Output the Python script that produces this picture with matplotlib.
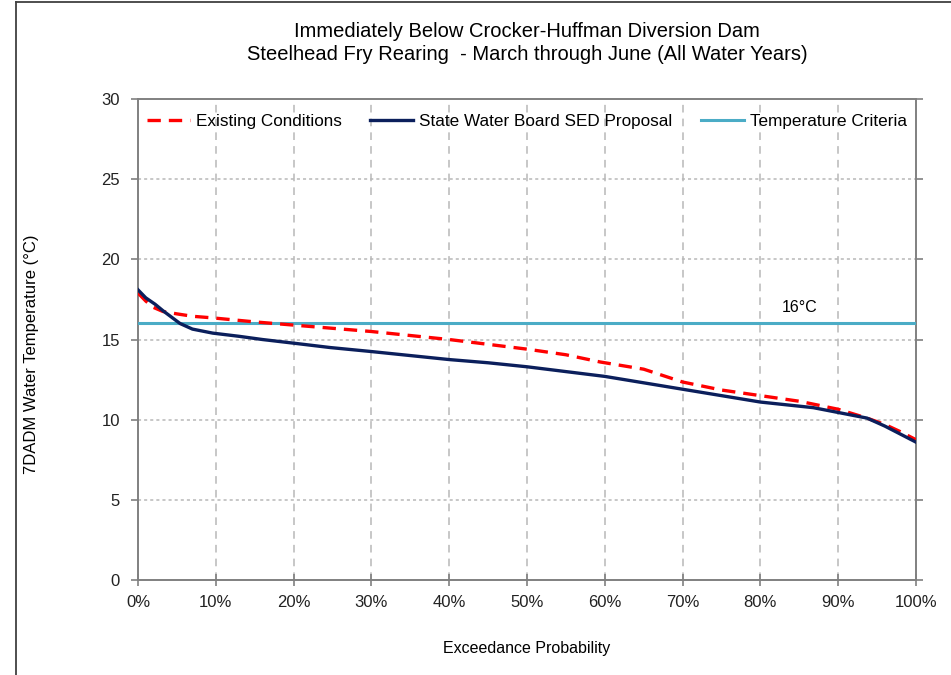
import matplotlib

matplotlib.use("Agg")
import matplotlib.pyplot as plt
from matplotlib.lines import Line2D
from matplotlib.ticker import FuncFormatter

plt.rcParams["font.family"] = ["Liberation Sans", "DejaVu Sans"]

# exceedance probability (%) and 7DADM temperature (deg C)
exist_x = [0, 1, 2, 3.2, 5, 7, 9.6, 15, 20, 25, 30, 35, 40, 45, 50, 55, 59.4, 65, 70,
           75, 80, 85, 90, 93.7, 96, 98, 100]
exist_y = [17.9, 17.4, 17.0, 16.75, 16.6, 16.45, 16.35, 16.1, 15.9, 15.7, 15.5, 15.25, 15.0,
           14.7, 14.4, 14.05, 13.6, 13.15, 12.35, 11.85, 11.5, 11.15, 10.65, 10.1, 9.7, 9.25, 8.75]

sed_x = [0, 1, 2.2, 3.2, 5.4, 7, 9.6, 13, 16, 20.4, 24.7, 30, 35, 40, 45, 50, 55, 60, 65,
         70, 75, 80, 86.8, 90, 93.7, 96, 98, 100]
sed_y = [18.1, 17.6, 17.2, 16.8, 16.0, 15.65, 15.4, 15.2, 15.0, 14.75, 14.5, 14.25, 14.0,
         13.75, 13.55, 13.3, 13.0, 12.7, 12.3, 11.9, 11.5, 11.1, 10.75, 10.45, 10.1, 9.6, 9.1, 8.6]

criteria = 16

fig = plt.figure(figsize=(9.51, 6.75), dpi=100)
ax = fig.add_axes([0.1451, 0.1407, 0.8181, 0.7126])

ax.plot(exist_x, exist_y, color="#ff0000", lw=2.4, dashes=(4, 2.4),
        label="Existing Conditions", zorder=4)
ax.plot(sed_x, sed_y, color="#0b1f5c", lw=2.4,
        label="State Water Board SED Proposal", zorder=5)
ax.axhline(criteria, color="#4bacc6", lw=2.2, label="Temperature Criteria", zorder=3)
ax.text(85, 17.0, "16\u00b0C", ha="center", va="center", fontsize=11.5)

ax.set_xlim(0, 100)
ax.set_ylim(0, 30)
ax.set_xticks(range(0, 101, 10))
ax.set_yticks(range(0, 31, 5))
ax.xaxis.set_major_formatter(FuncFormatter(lambda v, p: f"{v:.0f}%"))
ax.tick_params(axis="both", labelsize=12, color="#808080", width=1.2, length=5,
               labelcolor="#222222")
ax.tick_params(axis="x", direction="inout", length=8, pad=7)
ax.tick_params(axis="y", direction="out", right=True, pad=8)

for x in range(10, 100, 10):
    ax.axvline(x, color="#b8b8b8", lw=1.1, dashes=(5, 4), zorder=1)
for y in range(5, 30, 5):
    ax.axhline(y, color="#b8b8b8", lw=1.1, dashes=(2, 2), zorder=1)

for s in ax.spines.values():
    s.set_color("#808080")
    s.set_linewidth(1.4)

ax.set_xlabel("Exceedance Probability", fontsize=11.5, labelpad=22)
ax.set_ylabel("7DADM Water Temperature (\u00b0C)", fontsize=12, labelpad=45)
ax.yaxis.label.set_y(0.47)
ax.set_title("Immediately Below Crocker-Huffman Diversion Dam\n"
             "Steelhead Fry Rearing  - March through June (All Water Years)",
             fontsize=14.5, pad=28, linespacing=1.25)

ax.legend(loc="upper center", bbox_to_anchor=(0.5, 1.0), ncol=3, frameon=False,
          fontsize=12.3, handlelength=2.5, handletextpad=0.35, columnspacing=1.7,
          borderaxespad=0.5)

# outer chart border (top and left only visible)
fig.add_artist(Line2D([0.0168, 1.0], [0.997, 0.997], transform=fig.transFigure,
                      color="#404040", lw=1.3))
fig.add_artist(Line2D([0.0168, 0.0168], [0.0, 0.997], transform=fig.transFigure,
                      color="#404040", lw=1.3))

fig.savefig("out.png", dpi=100)
